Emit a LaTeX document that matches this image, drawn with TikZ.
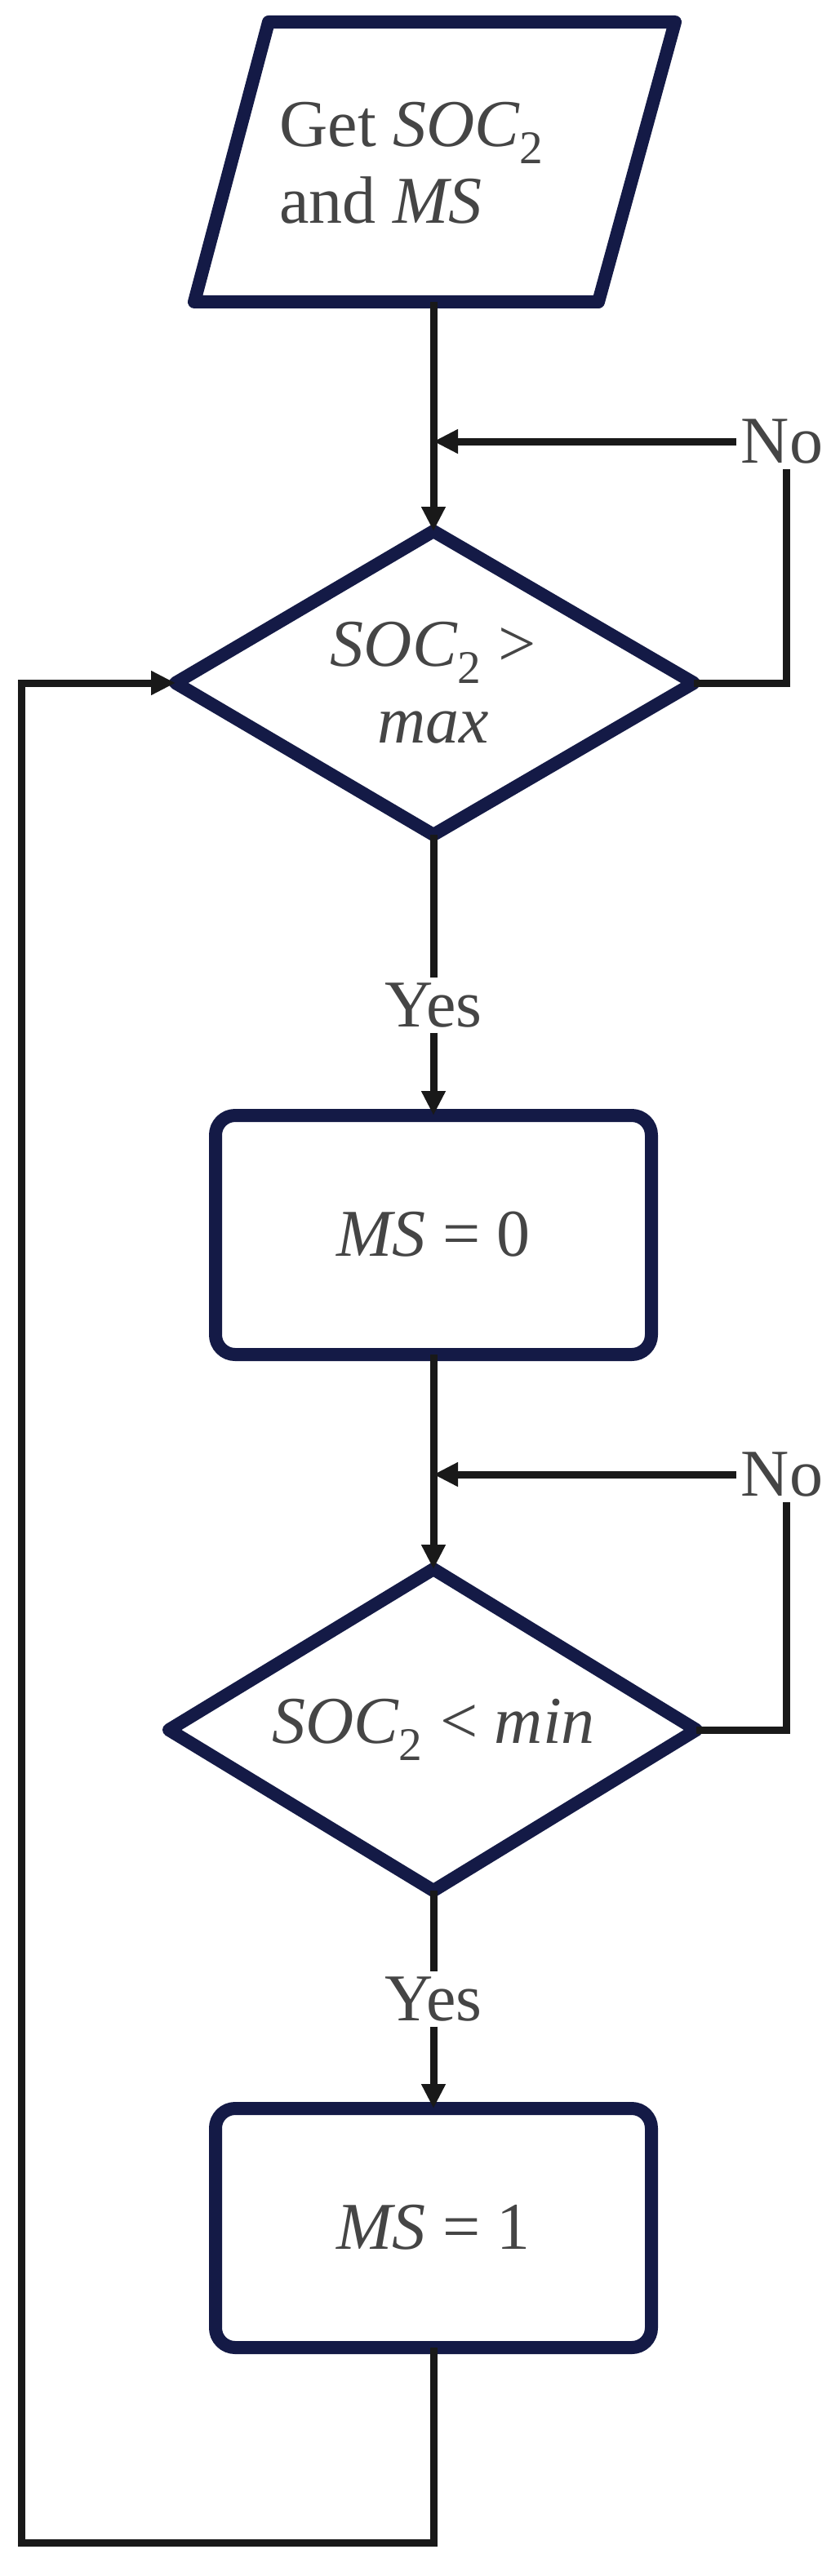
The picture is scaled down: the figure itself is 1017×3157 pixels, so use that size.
\documentclass[tikz,border=0pt]{standalone}
\usepackage{fontspec}
\setmainfont{Liberation Serif}
\usetikzlibrary{arrows.meta}
\definecolor{navy}{HTML}{141A46}
\definecolor{txt}{HTML}{454545}
\begin{document}
\begin{tikzpicture}[x=0.5pt,y=-0.5pt,
  shp/.style={draw=navy,line width=8pt,line join=round},
  con/.style={draw=black!90,line width=4.5pt},
  arr/.style={con,-{Triangle[length=15pt,width=14pt]}},
  lbl/.style={text=txt,font=\fontsize{41}{47}\selectfont,inner sep=2pt},
  yn/.style={lbl,fill=white,inner sep=3pt}]
\useasboundingbox (0,0) rectangle (1017,3157);
% input parallelogram
\draw[shp] (329,27) -- (827,27) -- (733,370) -- (238,370) -- cycle;
\coordinate (inb) at (531,370);
\node[lbl,anchor=west,align=left] (in) at (338,200) {Get \textit{SOC}\textsubscript{2}\\and \textit{MS}};
% decision 1
\draw[shp] (531,651) -- (850,837) -- (531,1023) -- (215,837) -- cycle;
\coordinate (d1t) at (531,651); \coordinate (d1r) at (850,837);
\coordinate (d1b) at (531,1023); \coordinate (d1l) at (215,837);
\node[lbl,align=center] (d1) at (531,837) {\textit{SOC}\textsubscript{2} >\\\textit{max}};
% box 1
\draw[shp,rounded corners=12pt] (264,1367) rectangle (798,1660);
\coordinate (b1t) at (531,1367); \coordinate (b1b) at (531,1660);
\node[lbl] (b1) at (531,1513) {\textit{MS} = 0};
% decision 2
\draw[shp] (531,1923) -- (853,2120) -- (531,2317) -- (207,2120) -- cycle;
\coordinate (d2t) at (531,1923); \coordinate (d2r) at (853,2120);
\coordinate (d2b) at (531,2317);
\node[lbl] (d2) at (531,2120) {\textit{SOC}\textsubscript{2} < \textit{min}};
% box 2
\draw[shp,rounded corners=12pt] (264,2584) rectangle (798,2877);
\coordinate (b2t) at (531,2584); \coordinate (b2b) at (531,2877);
\node[lbl] (b2) at (531,2730) {\textit{MS} = 1};
% labels
\node[yn] (no1) at (958,541) {No};
\node[yn] (no2) at (958,1807) {No};
\node[yn] (yes1) at (531,1232) {Yes};
\node[yn] (yes2) at (531,2450) {Yes};
\coordinate (j1) at (531,541); \coordinate (j2) at (531,1807);
\coordinate (c1) at (963,837); \coordinate (c2) at (963,2120);
\coordinate (lb) at (531,3116); \coordinate (ll) at (26,3116); \coordinate (lt) at (26,837);
% connectors
\draw[arr] (inb) -- (d1t);
\draw[con] (d1r) -- (c1) -- (c1 |- no1.south);
\draw[arr] (no1.west) -- (j1);
\draw[con] (d1b) -- (yes1.north);
\draw[arr] (yes1.south) -- (b1t);
\draw[arr] (b1b) -- (d2t);
\draw[con] (d2r) -- (c2) -- (c2 |- no2.south);
\draw[arr] (no2.west) -- (j2);
\draw[con] (d2b) -- (yes2.north);
\draw[arr] (yes2.south) -- (b2t);
\draw[arr,line join=miter] (b2b) -- (lb) -- (ll) -- (lt) -- (d1l);
\end{tikzpicture}
\end{document}
